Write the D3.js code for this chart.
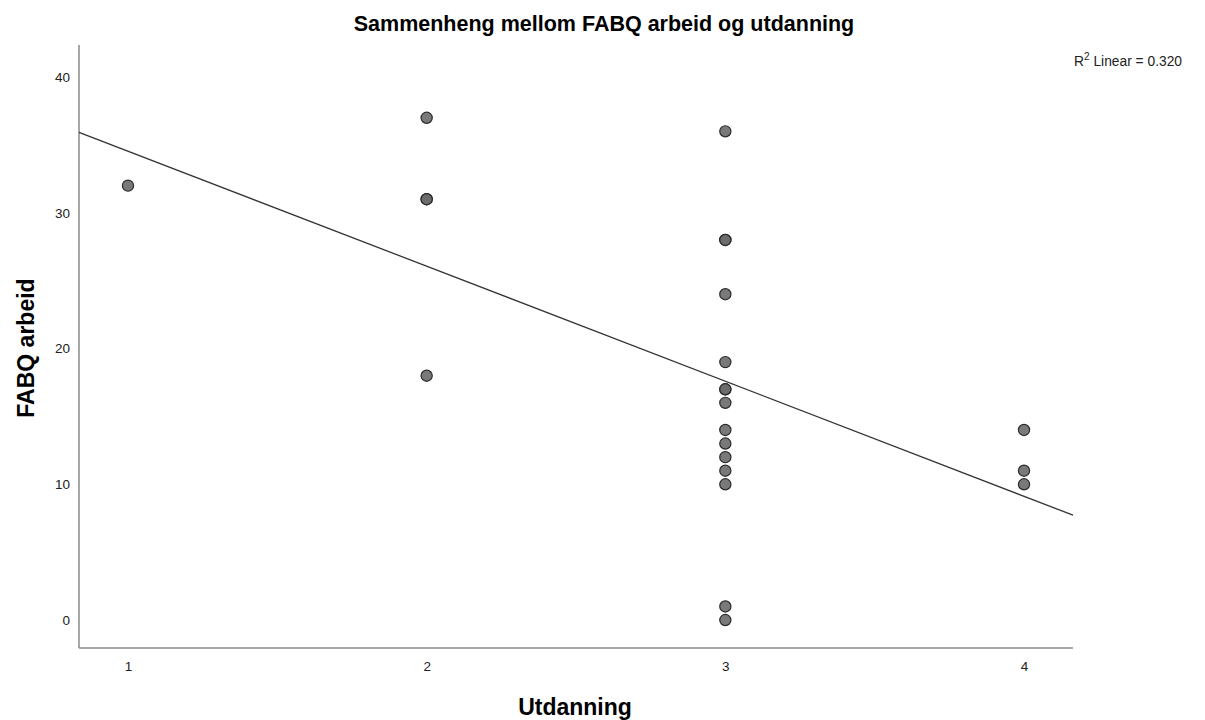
<!DOCTYPE html>
<html lang="en">
<head>
<meta charset="utf-8">
<title>Sammenheng mellom FABQ arbeid og utdanning</title>
<script src="https://cdn.jsdelivr.net/npm/d3@7"></script>
<style>
  html, body { margin: 0; background: white; }
  text { font-family: "Liberation Sans", Arial, sans-serif; }
</style>
</head>
<body>
<script>
// data (education level -> FABQ work score), overlapping duplicates included
var utdanning = [1, 2, 2, 2, 2, 3, 3, 3, 3, 3, 3, 3, 3, 3, 3, 3, 3, 3, 3, 3, 4, 4, 4];
var fabqArbeid = [32, 37, 31, 31, 18, 36, 28, 28, 24, 19, 17, 17, 16, 14, 13, 12, 11, 10, 1, 0, 14, 11, 10];
var xTicks = [1, 2, 3, 4];
var yTicks = [0, 10, 20, 30, 40];

var w = 1205, h = 720;
var plotLeft = 79, plotRight = 1073, plotTop = 45, plotBottom = 648;

var data = utdanning.map(function(d, i) { return { x: d, y: fabqArbeid[i] }; });

var svg = d3.select("body").append("svg")
  .attr("width", w).attr("height", h);

var xScale = d3.scaleLinear().domain([0.836, 4.164]).range([plotLeft, plotRight]);
var yScale = d3.scaleLinear().domain([-2.06, 42.36]).range([plotBottom, plotTop]);

// title
svg.append("text")
  .attr("x", 604).attr("y", 31)
  .attr("text-anchor", "middle")
  .attr("font-size", 21.5).attr("font-weight", "bold")
  .attr("fill", "#000")
  .text("Sammenheng mellom FABQ arbeid og utdanning");

// axes
var xAxis = d3.axisBottom(xScale).tickValues(xTicks).tickSize(0).tickPadding(13).tickFormat(d3.format("d"));
var yAxis = d3.axisLeft(yScale).tickValues(yTicks).tickSize(0).tickPadding(9);

var gx = svg.append("g").attr("transform", "translate(0," + plotBottom + ")").call(xAxis);
var gy = svg.append("g").attr("transform", "translate(" + plotLeft + ",0)").call(yAxis);

[gx, gy].forEach(function(g) {
  g.select(".domain").attr("stroke", "#8a8a8a").attr("stroke-width", 1.5);
  g.selectAll("text").attr("font-size", 13.5).attr("fill", "#222")
    .attr("font-family", "Liberation Sans, Arial, sans-serif");
});
gx.select(".domain").attr("d", "M" + plotLeft + ",0H" + plotRight);
gy.select(".domain").attr("d", "M0," + plotTop + "V" + plotBottom);

// axis titles
svg.append("text")
  .attr("x", 575).attr("y", 715)
  .attr("text-anchor", "middle")
  .attr("font-size", 23).attr("font-weight", "bold")
  .text("Utdanning");

svg.append("text")
  .attr("transform", "translate(34,348) rotate(-90)")
  .attr("text-anchor", "middle")
  .attr("font-size", 23).attr("font-weight", "bold")
  .text("FABQ arbeid");

// linear fit
var mx = d3.mean(data, function(d) { return d.x; });
var my = d3.mean(data, function(d) { return d.y; });
var sxy = d3.sum(data, function(d) { return (d.x - mx) * (d.y - my); });
var sxx = d3.sum(data, function(d) { return (d.x - mx) * (d.x - mx); });
var syy = d3.sum(data, function(d) { return (d.y - my) * (d.y - my); });
var slope = sxy / sxx;
var intercept = my - slope * mx;
var r2 = (sxy * sxy) / (sxx * syy);

var xd = xScale.domain();
svg.append("line")
  .attr("x1", xScale(xd[0])).attr("y1", yScale(intercept + slope * xd[0]))
  .attr("x2", xScale(xd[1])).attr("y2", yScale(intercept + slope * xd[1]))
  .attr("stroke", "#333").attr("stroke-width", 1.3);

// points
svg.append("g").selectAll("circle")
  .data(data)
  .enter()
  .append("circle")
  .attr("cx", function(d) { return xScale(d.x); })
  .attr("cy", function(d) { return yScale(d.y); })
  .attr("r", 5.6)
  .attr("fill", "#6a6a6a")
  .attr("fill-opacity", 0.9)
  .attr("stroke", "#2a2a2a")
  .attr("stroke-width", 1.2);

// R2 label
var r2Text = svg.append("text")
  .attr("x", 1182).attr("y", 66)
  .attr("text-anchor", "end")
  .attr("font-size", 13.8).attr("fill", "#222");
r2Text.append("tspan").text("R");
r2Text.append("tspan").attr("dy", -6).attr("font-size", 10).text("2");
r2Text.append("tspan").attr("dy", 6).text(" Linear = " + d3.format(".3f")(r2));
</script>
</body>
</html>
